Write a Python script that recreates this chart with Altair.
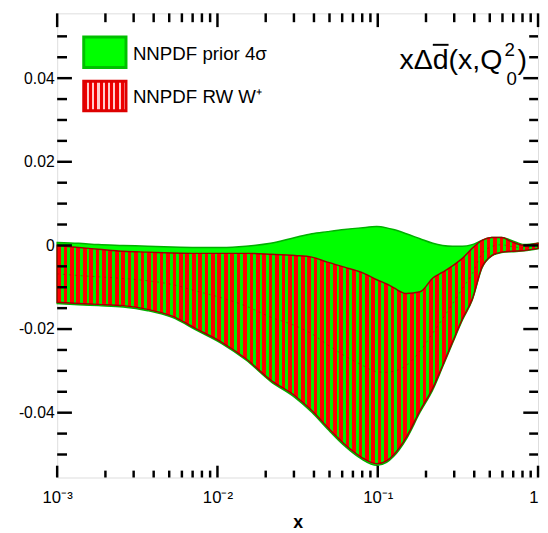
import altair as alt
import pandas as pd

# ---- data ----
x_vals = [0.001, 0.00136, 0.00181, 0.00258, 0.00367, 0.00522, 0.00743, 0.01058,
          0.01506, 0.02145, 0.03053, 0.0388, 0.0486, 0.0619, 0.0787, 0.0986,
          0.1135, 0.1254, 0.1507, 0.1836, 0.2207, 0.2540, 0.2926, 0.3371,
          0.3882, 0.4470, 0.5148, 0.5929, 0.6831, 0.8207, 1.0]
green_upper = [0.0007, 0.0005, 0.0002, 0.0, -0.0002, -0.0004, -0.0005, -0.0005,
               -0.0002, 0.0005, 0.0019, 0.0028, 0.0033, 0.0038, 0.0042, 0.0045,
               0.0042, 0.0038, 0.0028, 0.0016, 0.0005, 0.0, -0.0002, -0.0002,
               0.0002, 0.0012, 0.0019, 0.0019, 0.0012, 0.0002, 0.0005]
green_lower = [-0.0139, -0.0142, -0.0144, -0.0147, -0.0156, -0.0172, -0.0203, -0.0234,
               -0.0274, -0.0325, -0.0364, -0.0399, -0.0439, -0.0479, -0.0510, -0.0526,
               -0.0519, -0.0505, -0.0463, -0.0399, -0.0345, -0.0290, -0.0234, -0.0179,
               -0.0131, -0.0054, -0.0025, -0.0017, -0.0015, -0.0013, -0.0008]
red_upper = [0.0, -0.0005, -0.0009, -0.0014, -0.0016, -0.0018, -0.0019, -0.0019,
             -0.0019, -0.0021, -0.0024, -0.0028, -0.0040, -0.0052, -0.0064, -0.0082,
             -0.0092, -0.0101, -0.0115, -0.0111, -0.0078, -0.0064, -0.0049, -0.0031,
             -0.0007, 0.0012, 0.0019, 0.0019, 0.0009, 0.0, 0.0005]
red_lower = [-0.0136, -0.0139, -0.0141, -0.0144, -0.0153, -0.0169, -0.0200, -0.0231,
             -0.0271, -0.0322, -0.0360, -0.0395, -0.0435, -0.0475, -0.0506, -0.0522,
             -0.0515, -0.0501, -0.0459, -0.0395, -0.0341, -0.0287, -0.0231, -0.0176,
             -0.0129, -0.0052, -0.0024, -0.0016, -0.0014, -0.0012, -0.0007]

series_names = ["NNPDF prior 4σ", "NNPDF RW W⁺"]
title_main = "xΔd(x,Q"
title_sup = "2"
title_sub = "0"
title_close = ")"

x_major = [0.001, 0.01, 0.1, 1.0]
x_major_labels = ["10⁻³", "10⁻²", "10⁻¹", "1"]
x_minor = [0.002, 0.003, 0.004, 0.005, 0.006, 0.007, 0.008, 0.009,
           0.02, 0.03, 0.04, 0.05, 0.06, 0.07, 0.08, 0.09,
           0.2, 0.3, 0.4, 0.5, 0.6, 0.7, 0.8, 0.9]
y_major = [-0.04, -0.02, 0.0, 0.02, 0.04]
y_major_labels = ["-0.04", "-0.02", "0", "0.02", "0.04"]
y_minor = [-0.05, -0.045, -0.035, -0.03, -0.025, -0.015, -0.01, -0.005,
           0.005, 0.01, 0.015, 0.025, 0.03, 0.035, 0.045, 0.05]

df = pd.DataFrame({"x": x_vals, "gu": green_upper, "gl": green_lower,
                   "ru": red_upper, "rl": red_lower})

W, H = 489, 472
FONT = "Liberation Sans"

# striped fill for the reweighted band (style only)
N_STRIPES = 75
stops = []
for i in range(N_STRIPES):
    a = i / N_STRIPES
    b = (i + 0.58) / N_STRIPES
    c = (i + 1) / N_STRIPES
    stops += [alt.GradientStop(offset=a, color="#ff0000"),
              alt.GradientStop(offset=b, color="#ff0000"),
              alt.GradientStop(offset=b, color="#00ee00"),
              alt.GradientStop(offset=c, color="#00ee00")]
stripe_fill = alt.LinearGradient(gradient="linear", x1=0, x2=1, y1=0, y2=0, stops=stops)

N_LEG = 8
leg_stops = []
for i in range(N_LEG):
    a = i / N_LEG
    b = (i + 0.6) / N_LEG
    c = (i + 1) / N_LEG
    leg_stops += [alt.GradientStop(offset=a, color="#ee0000"),
                  alt.GradientStop(offset=b, color="#ee0000"),
                  alt.GradientStop(offset=b, color="#ffcccc"),
                  alt.GradientStop(offset=c, color="#ffcccc")]
leg_fill = alt.LinearGradient(gradient="linear", x1=0, x2=1, y1=0, y2=0, stops=leg_stops)

xs = alt.Scale(type="log", domain=[0.001, 1.0], nice=False)
ys = alt.Scale(domain=[-0.0555, 0.0555], nice=False, zero=False)

x_expr = " : ".join(
    [f"datum.value < {v * 1.5} ? '{l}'" for v, l in zip(x_major[:-1], x_major_labels[:-1])]
) + f" : '{x_major_labels[-1]}'"
y_expr = " : ".join(
    [f"datum.value < {v + 0.005} ? '{l}'" for v, l in zip(y_major[:-1], y_major_labels[:-1])]
) + f" : '{y_major_labels[-1]}'"

x_axis = alt.Axis(values=x_major, labelExpr=x_expr, ticks=False, domain=False, grid=False,
                  labelFont=FONT, labelFontSize=17, labelColor="black", labelPadding=12,
                  labelAlign=alt.ExprRef(expr="datum.value >= 0.5 ? 'right' : 'center'"),
                  labelFlush=False, labelOverlap=False, labelBound=False,
                  title="x", titleFont=FONT, titleFontSize=18, titleFontWeight="bold",
                  titleColor="black", titleY=51, titleBaseline="alphabetic")
y_axis = alt.Axis(values=y_major, labelExpr=y_expr, ticks=False, domain=False, grid=False,
                  labelFont=FONT, labelFontSize=16, labelColor="black", labelPadding=3,
                  labelFlush=False, labelOverlap=False, title=None)

base = alt.Chart(df)

green = base.mark_area(fill="#00ff00", stroke="#00b000", strokeWidth=1.5,
                       interpolate="monotone").encode(
    x=alt.X("x:Q", scale=xs, axis=x_axis),
    y=alt.Y("gu:Q", scale=ys, axis=y_axis),
    y2="gl:Q")

red = base.mark_area(fill=stripe_fill, stroke="#a00000", strokeWidth=1.5,
                     interpolate="monotone").encode(
    x="x:Q", y="ru:Q", y2="rl:Q")

center = base.transform_calculate(mid="(datum.ru + datum.rl) / 2").mark_line(
    color="#990000", strokeWidth=1, strokeDash=[2, 4], opacity=0.5,
    interpolate="monotone").encode(x="x:Q", y="mid:Q")


def xticks(vals, y0, y1):
    return alt.Chart(pd.DataFrame({"x": vals})).mark_rule(
        color="black", strokeWidth=2.5).encode(
        x=alt.X("x:Q", scale=xs), y=alt.value(y0), y2=alt.value(y1))


def yticks(vals, x0, x1):
    return alt.Chart(pd.DataFrame({"gu": vals})).mark_rule(
        color="black", strokeWidth=2.5).encode(
        y=alt.Y("gu:Q", scale=ys), x=alt.value(x0), x2=alt.value(x1))


ticks = [
    xticks(x_major, H, H - 12), xticks(x_minor, H, H - 7),
    xticks(x_major, 0, 14), xticks(x_minor, 0, 9),
    yticks(y_major, 0, 15), yticks(y_minor, 0, 10),
    yticks(y_major, W, W - 15), yticks(y_minor, W, W - 9),
]

one = pd.DataFrame({"t": [""]})
leg_green = alt.Chart(one).mark_rect(fill="#00ff00", stroke="#00c000", strokeWidth=3).encode(
    x=alt.value(27), x2=alt.value(70), y=alt.value(24), y2=alt.value(55))
leg_red = alt.Chart(one).mark_rect(fill=leg_fill, stroke="#dd0000", strokeWidth=3).encode(
    x=alt.value(27), x2=alt.value(70), y=alt.value(69), y2=alt.value(99))


def label(txt, x, y, size, baseline="middle", align="left"):
    return alt.Chart(pd.DataFrame({"t": [txt]})).mark_text(
        font=FONT, fontSize=size, color="black", align=align, baseline=baseline).encode(
        x=alt.value(x), y=alt.value(y), text="t:N")


texts = [
    label(series_names[0], 77, 41, 19),
    label(series_names[1], 77, 85, 19),
    label(title_main, 348, 57, 29, baseline="alphabetic"),
    label(title_sup, 455, 43, 19, baseline="alphabetic"),
    label(title_sub, 457, 73, 19, baseline="alphabetic"),
    label(title_close, 468, 57, 29, baseline="alphabetic"),
]
overbar = alt.Chart(one).mark_rule(color="black", strokeWidth=2).encode(
    x=alt.value(382), x2=alt.value(398), y=alt.value(32))

chart = alt.layer(green, red, center, *ticks, leg_green, leg_red, *texts, overbar).properties(
    width=W, height=H,
    autosize=alt.AutoSizeParams(type="none"),
    padding={"left": 50, "top": 1, "right": 2, "bottom": 52},
).configure_view(stroke="black", strokeWidth=3).configure(background="white")

chart.save("out.html", embed_options={"renderer": "svg", "actions": False})
